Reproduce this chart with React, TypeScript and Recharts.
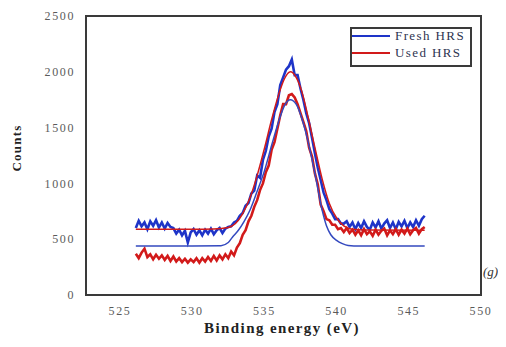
import React from 'react';
import { LineChart, Line, XAxis, YAxis, ReferenceArea } from 'recharts';

// Binding energy grid of the measured spectra (eV)
const energy = [
  526.1, 526.3, 526.5, 526.7, 526.9, 527.1, 527.3, 527.5, 527.7, 527.9,
  528.1, 528.3, 528.5, 528.7, 528.9, 529.1, 529.3, 529.5, 529.7, 529.9,
  530.1, 530.3, 530.5, 530.7, 530.9, 531.1, 531.3, 531.5, 531.7, 531.9,
  532.1, 532.3, 532.5, 532.7, 532.9, 533.1, 533.3, 533.5, 533.7, 533.9,
  534.1, 534.3, 534.5, 534.7, 534.9, 535.1, 535.3, 535.5, 535.7, 535.9,
  536.1, 536.3, 536.5, 536.7, 536.9, 537.1, 537.3, 537.5, 537.7, 537.9,
  538.1, 538.3, 538.5, 538.7, 538.9, 539.1, 539.3, 539.5, 539.7, 539.9,
  540.1, 540.3, 540.5, 540.7, 540.9, 541.1, 541.3, 541.5, 541.7, 541.9,
  542.1, 542.3, 542.5, 542.7, 542.9, 543.1, 543.3, 543.5, 543.7, 543.9,
  544.1, 544.3, 544.5, 544.7, 544.9, 545.1, 545.3, 545.5, 545.7, 545.9,
  546.1,
];

// Fresh HRS measured counts
const fresh = [
  600, 665, 615, 650, 590, 660, 620, 670, 605, 650,
  595, 645, 610, 600, 550, 585, 535, 575, 470, 560,
  590, 540, 580, 535, 585, 550, 595, 545, 580, 600,
  555, 595, 610, 615, 650, 665, 710, 735, 800, 825,
  910, 935, 1070, 1050, 1210, 1290, 1420, 1490, 1640, 1710,
  1880, 1950, 2020, 2050, 2110, 1970, 1970, 1850, 1750, 1630,
  1540, 1410, 1270, 1140, 1030, 920, 850, 770, 730, 680,
  680, 640, 640, 660, 610, 650, 590, 645, 600, 660,
  610, 585, 650, 605, 660, 595, 640, 670, 600, 650,
  590, 655, 615, 665, 600, 650, 610, 670, 620, 680,
  710,
];

// Used HRS measured counts
const used = [
  370, 330, 380, 415, 340, 365, 320, 360, 325, 355,
  315, 350, 305, 345, 300, 330, 295, 325, 290, 320,
  295, 330, 290, 330, 300, 340, 305, 350, 310, 355,
  320, 365, 330, 390, 355, 425, 465, 540, 580, 660,
  710, 790, 850, 940, 1000, 1100, 1160, 1300, 1370, 1490,
  1610, 1710, 1710, 1790, 1800, 1770, 1710, 1630, 1550, 1470,
  1320, 1240, 1090, 990, 810, 750, 680, 670, 630, 630,
  590, 600, 565, 600, 555, 585, 540, 580, 535, 590,
  545, 570, 530, 585, 540, 575, 595, 535, 580, 545,
  590, 540, 585, 550, 595, 545, 580, 600, 550, 590,
  610,
];

// Smooth fitted envelopes
const redFitE = [526.1, 528, 530, 531.5, 532.5, 533, 533.5, 534, 534.5, 535, 535.5, 536, 536.4, 536.8, 537.2, 537.6, 538, 538.5, 539, 539.5, 540, 540.5, 541, 542, 546.1];
const redFitV = [590, 590, 590, 592, 605, 640, 730, 870, 1070, 1310, 1570, 1800, 1940, 2000, 1950, 1820, 1610, 1320, 1040, 820, 690, 620, 592, 583, 580];
const blueFitE = [526.1, 530, 532, 532.5, 532.8, 533.2, 533.6, 534, 534.5, 535, 535.5, 536, 536.4, 536.8, 537.2, 537.6, 538, 538.5, 539, 539.3, 539.6, 540, 540.4, 540.8, 541.2, 546.1];
const blueFitV = [440, 440, 442, 470, 520, 580, 660, 760, 930, 1110, 1340, 1560, 1700, 1750, 1710, 1580, 1390, 1090, 760, 620, 540, 490, 460, 443, 440, 440];

const xTicks = [525, 530, 535, 540, 545, 550];
const yTicks = [0, 500, 1000, 1500, 2000, 2500];
const seriesNames = ['Fresh HRS', 'Used HRS'];

const data = energy.map((e, i) => ({ e, fresh: fresh[i], used: used[i] }));
const redFit = redFitE.map((e, i) => ({ e, v: redFitV[i] }));
const blueFit = blueFitE.map((e, i) => ({ e, v: blueFitV[i] }));

const BLUE = '#1e34c8';
const RED = '#d21a1a';
const FIT_BLUE = '#3449bf';
const FRAME = '#3a3a3a';
const SERIF = '"Liberation Serif", "Times New Roman", serif';

const tickStyle = { fontSize: 12, fill: '#5a5a5a', fontFamily: SERIF, letterSpacing: 1.6 };

export default function App() {
  return (
    <div style={{ position: 'relative', width: 490, height: 331 }}>
      <LineChart
        width={490}
        height={331}
        data={data}
        margin={{ top: 8, right: 17, left: 0, bottom: 0 }}
      >
        <XAxis
          dataKey="e"
          type="number"
          domain={[522.65, 550]}
          ticks={xTicks}
          allowDataOverflow
          tickLine={false}
          axisLine={false}
          tickSize={0}
          tickMargin={11}
          height={44}
          tick={tickStyle}
        />
        <YAxis
          type="number"
          domain={[0, 2500]}
          ticks={yTicks}
          tickLine={false}
          axisLine={false}
          tickSize={0}
          tickMargin={11}
          width={78}
          tick={tickStyle}
        />
        <ReferenceArea
          x1={522.65}
          x2={550}
          y1={0}
          y2={2500}
          fill="none"
          stroke={FRAME}
          strokeWidth={2}
          ifOverflow="visible"
        />
        <Line dataKey="fresh" stroke={BLUE} strokeWidth={2.6} dot={false} type="linear" isAnimationActive={false} />
        <Line dataKey="used" stroke={RED} strokeWidth={2.6} dot={false} type="linear" isAnimationActive={false} />
        <Line data={blueFit} dataKey="v" stroke={FIT_BLUE} strokeWidth={1.5} dot={false} type="monotone" isAnimationActive={false} />
        <Line data={redFit} dataKey="v" stroke={RED} strokeWidth={1.5} dot={false} type="monotone" isAnimationActive={false} />
      </LineChart>
      <svg
        width={498}
        height={339}
        style={{ position: 'absolute', left: 0, top: 0, overflow: 'visible', pointerEvents: 'none' }}
      >
        <rect x={343} y={20} width={120} height={38} fill="#fff" stroke={FRAME} strokeWidth={2} />
        <line x1={344} x2={382} y1={28} y2={28} stroke={BLUE} strokeWidth={2} />
        <line x1={344} x2={382} y1={45} y2={45} stroke={RED} strokeWidth={2} />
        <text x={387} y={32} fontSize={13} fontFamily={SERIF} fill="#2d3350" letterSpacing={1.4}>{seriesNames[0]}</text>
        <text x={387} y={49} fontSize={13} fontFamily={SERIF} fill="#2d3350" letterSpacing={1.4}>{seriesNames[1]}</text>
        <text x={274} y={325} fontSize={15} fontWeight="bold" fontFamily={SERIF} fill="#222" textAnchor="middle" letterSpacing={1.4}>Binding energy (eV)</text>
        <text x={13} y={140} fontSize={13} fontWeight="bold" fontFamily={SERIF} fill="#222" textAnchor="middle" letterSpacing={1.2} transform="rotate(-90 13 140)">Counts</text>
        <text x={475} y={268} fontSize={13} fontStyle="italic" fontFamily={SERIF} fill="#333">(g)</text>
      </svg>
    </div>
  );
}
